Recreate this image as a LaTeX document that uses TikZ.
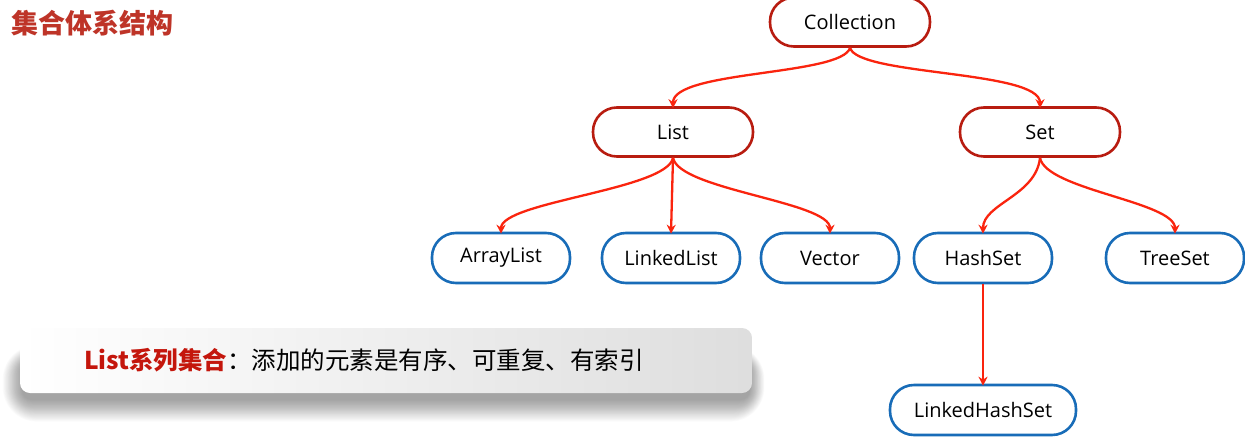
\documentclass[tikz,border=0pt]{standalone}
\usepackage{fontspec}
\setmainfont{Noto Sans CJK SC}
\newfontfamily\labfont{Open Sans}
\usetikzlibrary{arrows.meta,calc}
\definecolor{titlered}{RGB}{190,52,40}
\definecolor{boxred}{RGB}{184,28,16}
\definecolor{edgered}{RGB}{250,36,14}
\definecolor{boxblue}{RGB}{24,108,184}
\definecolor{bannerred}{RGB}{196,22,12}
\tikzset{
  redbox/.style={draw=boxred, line width=2.6pt, fill=white, rectangle, rounded corners=24pt,
    minimum width=160pt, minimum height=49pt, font=\labfont\fontsize{20}{22}\selectfont, inner sep=0pt},
  bluebox/.style={draw=boxblue, line width=2.6pt, fill=white, rectangle, rounded corners=24pt,
    minimum width=138pt, minimum height=50pt, font=\labfont\fontsize{20}{22}\selectfont, inner sep=0pt},
  edge/.style={draw=edgered, line width=2.3pt, -{Stealth[length=9pt,width=9pt]}},
}
\begin{document}
\begin{tikzpicture}[x=1pt,y=-1pt]
\useasboundingbox (0,0) rectangle (1245,442);
\fill[white] (0,0) rectangle (1245,442);
% title
\node[anchor=west, text=titlered, font=\fontsize{27}{29}\selectfont\bfseries, inner sep=0pt] (title) at (11,23) {集合体系结构};
% tree
\node[redbox] (C) at (850,22) {Collection};
\node[redbox] (L) at (673,132) {List};
\node[redbox] (S) at (1040,132) {Set};
\node[bluebox] (AL) at (501,258) {ArrayList};
\node[bluebox] (LL) at (671,258) {LinkedList};
\node[bluebox] (V) at (830,258) {Vector};
\node[bluebox] (HS) at (983,258) {HashSet};
\node[bluebox] (TS) at (1175,258) {TreeSet};
\node[bluebox, minimum width=186pt] (LHS) at (983,410) {LinkedHashSet};
% edges
\draw[edge] (C.south) .. controls +(-8,28) and +(0,-38) .. ([yshift=-2pt]L.north);
\draw[edge] (C.south) .. controls +(8,28) and +(0,-38) .. ([yshift=-2pt]S.north);
\draw[edge] (L.south) .. controls +(-6,32) and +(0,-32) .. ([yshift=-2pt]AL.north);
\draw[edge] (L.south) -- ([yshift=-2pt]LL.north);
\draw[edge] (L.south) .. controls +(6,32) and +(0,-32) .. ([yshift=-2pt]V.north);
\draw[edge] (S.south) .. controls +(-4,38) and +(0,-30) .. ([yshift=-2pt]HS.north);
\draw[edge] (S.south) .. controls +(6,32) and +(0,-32) .. ([yshift=-2pt]TS.north);
\draw[edge] (HS.south) -- ([yshift=-2pt]LHS.north);
% banner shadow
\foreach \r in {0,...,24}{
  \fill[black, opacity=0.016, rounded corners={10pt+\r pt}]
    ({22-\r*0.8},{362-\r*0.7}) rectangle ({750+\r*0.6},{400+\r*0.9});
}
% banner
\node[rectangle, rounded corners=10pt, minimum width=732pt, minimum height=65pt,
  left color=white, right color=black!13] (banner) at (386,360.5) {};
\node[anchor=west, font=\fontsize{24.5}{26}\selectfont, inner sep=0pt] (btext) at ([xshift=64pt]banner.west)
  {\textcolor{bannerred}{\bfseries List系列集合}：添加的元素是有序、可重复、有索引};
\end{tikzpicture}
\end{document}
